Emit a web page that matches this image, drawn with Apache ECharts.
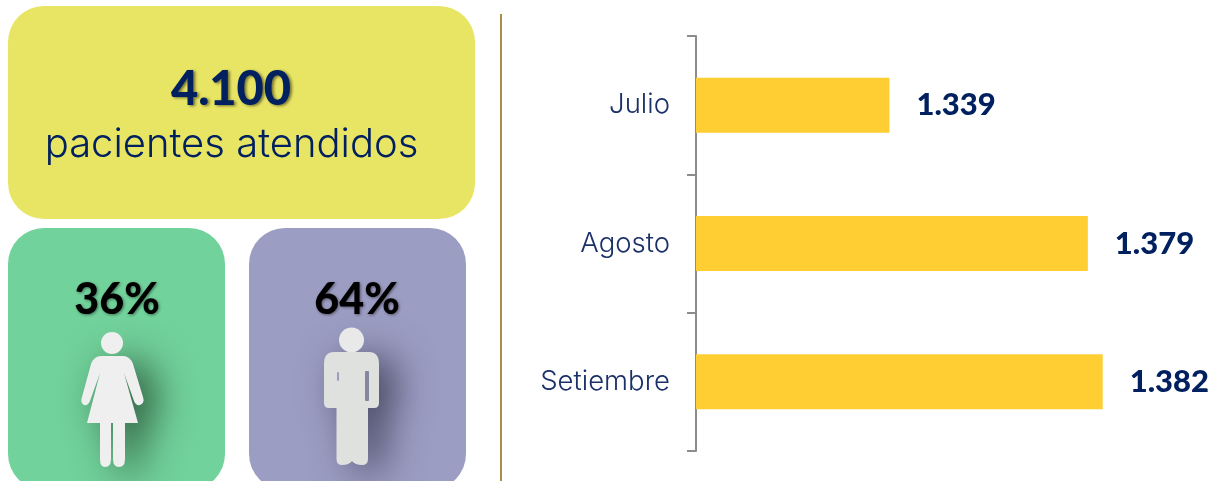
<!DOCTYPE html>
<html>
<head>
<meta charset="utf-8">
<style>html,body{margin:0;padding:0;background:#fff}#c{width:1215px;height:481px}</style>
<script src="https://cdn.jsdelivr.net/npm/echarts@6/dist/echarts.min.js"></script>
</head>
<body>
<div id="c"></div>
<script>
const categories = ['Julio', 'Agosto', 'Setiembre'];
const patients = [1339, 1379, 1382];
const totalLabel = '4.100';
const totalCaption = 'pacientes atendidos';
const sharePercent = ['36%', '64%'];

const NAVY = '#002060';
const BOLD = 'Lato';
const LIGHT = 'Inter';
const fmt = v => String(v).replace(/\B(?=(\d{3})+$)/g, '.');

const womanPath = 'M101 356 L123 356 Q130 356 133 364 L143 397 Q145 403 140 405 Q136 406 134 401 L124 373 L138 423 L125 423 L125 459 Q125 467 119 467 Q113 467 113 459 L113 423 L111 423 L111 459 Q111 467 105 467 Q100 467 100 459 L100 423 L87 423 L100 373 L90 401 Q88 406 84 405 Q80 403 82 397 L91 364 Q94 356 101 356 Z';
const manPath = 'M334 352 L369 352 Q379 352 379 364 L379 403 Q379 408 374 408 L368 408 L368 459 Q368 465 362 465 Q355 465 352 461 Q349 465 342 465 Q336.5 465 336.5 459 L336.5 408 L329 408 Q324 408 324 403 L324 364 Q324 352 334 352 Z';
echarts.graphic.registerShape('womanIcon', echarts.graphic.extendPath(womanPath, {}));
echarts.graphic.registerShape('manIcon', echarts.graphic.extendPath(manPath, {}));

const textShadow = (color, blur, dx, dy) => ({textShadowColor: color, textShadowBlur: blur, textShadowOffsetX: dx, textShadowOffsetY: dy});

const chart = echarts.init(document.getElementById('c'), null, {renderer: 'canvas'});
chart.setOption({
  animation: false,
  grid: {left: 696, top: 36, width: 496, height: 415, containLabel: false},
  xAxis: {type: 'value', min: 1300, max: 1400, show: false},
  yAxis: {
    type: 'category', data: categories, inverse: true,
    axisLine: {show: true, lineStyle: {color: '#8c8c8c', width: 2}},
    axisTick: {show: true, length: 9, lineStyle: {color: '#8c8c8c', width: 2}},
    axisLabel: {color: '#1b3068', fontFamily: LIGHT, fontWeight: 300, fontSize: 27.5, margin: 26, padding: [3, 0, 0, 0]}
  },
  series: [{
    type: 'bar', data: patients, barWidth: 55,
    itemStyle: {color: '#FFCE33'},
    label: {
      show: true, position: 'right', distance: 27,
      formatter: p => fmt(p.value), padding: [5, 0, 0, 0],
      color: NAVY, fontFamily: BOLD, fontWeight: 900, fontSize: 31
    }
  }],
  graphic: [
    {type: 'rect', z: 0, shape: {x: 8, y: 6, width: 467, height: 213, r: 36}, style: {fill: '#E9E564'}},
    {type: 'rect', z: 0, shape: {x: 8, y: 228, width: 217, height: 262, r: 36}, style: {fill: '#72D29B'}},
    {type: 'rect', z: 0, shape: {x: 249, y: 228, width: 217, height: 262, r: 36}, style: {fill: '#9C9DC3'}},
    {type: 'rect', z: 0, shape: {x: 500, y: 14, width: 2, height: 467}, style: {fill: '#A8913F'}},
    {type: 'text', z: 5, style: Object.assign({x: 231, y: 90, text: totalLabel, align: 'center', verticalAlign: 'middle',
      fill: NAVY, font: '900 47px ' + BOLD}, textShadow('rgba(50,50,20,0.65)', 3, 2, 1))},
    {type: 'text', z: 5, style: {x: 231.5, y: 145, text: totalCaption, align: 'center', verticalAlign: 'middle',
      fill: NAVY, font: '300 40px ' + LIGHT}},
    {type: 'text', z: 5, style: Object.assign({x: 117, y: 300, text: sharePercent[0], align: 'center', verticalAlign: 'middle',
      fill: '#000', font: '900 43px ' + BOLD}, textShadow('rgba(0,0,0,0.45)', 3, 1, 1))},
    {type: 'text', z: 5, style: Object.assign({x: 357, y: 300, text: sharePercent[1], align: 'center', verticalAlign: 'middle',
      fill: '#000', font: '900 43px ' + BOLD}, textShadow('rgba(0,0,0,0.45)', 3, 1, 1))},
    {type: 'womanIcon', z: 6, style: {fill: '#EFEFEF', shadowColor: 'rgba(25,55,35,0.75)', shadowBlur: 38, shadowOffsetX: 16, shadowOffsetY: 6}},
    {type: 'circle', z: 7, shape: {cx: 112, cy: 343, r: 11}, style: {fill: '#EFEFEF'}},
    {type: 'manIcon', z: 6, style: {fill: '#DFE1DF', shadowColor: 'rgba(35,35,55,0.7)', shadowBlur: 38, shadowOffsetX: 16, shadowOffsetY: 6}},
    {type: 'circle', z: 7, shape: {cx: 351.5, cy: 340, r: 12.5}, style: {fill: '#E9E9E9'}},
    {type: 'rect', z: 7, shape: {x: 365, y: 371, width: 4, height: 30, r: 1}, style: {fill: '#85869f'}},
    {type: 'rect', z: 7, shape: {x: 337, y: 372, width: 2, height: 9, r: 1}, style: {fill: '#9C9DC3'}}
  ]
});
</script>
</body>
</html>
